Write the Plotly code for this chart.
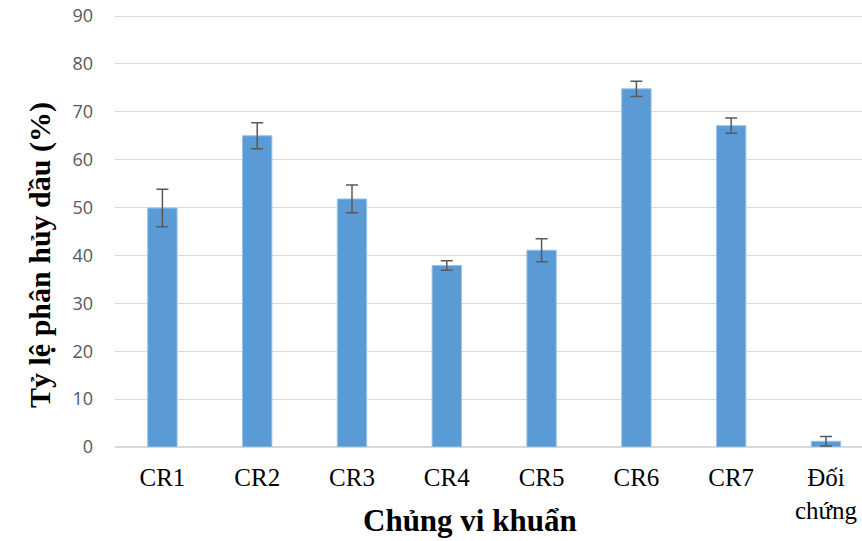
import plotly.graph_objects as go

categories = ["CR1", "CR2", "CR3", "CR4", "CR5", "CR6", "CR7", "Đối<br>chứng"]
values = [49.9, 65.0, 51.8, 37.9, 41.1, 74.8, 67.1, 1.2]
errors = [3.9, 2.7, 2.9, 1.0, 2.4, 1.6, 1.6, 1.0]
y_ticks = [0, 10, 20, 30, 40, 50, 60, 70, 80, 90]

W, H = 862, 541
L, T, B = 115, 14, 94
PW, PH = W - L, H - T - B

fig = go.Figure()
fig.add_trace(go.Bar(
    x=categories,
    y=values,
    width=0.31,
    marker=dict(color="#5B9BD5", line=dict(color="#9cc3e6", width=1)),
    error_y=dict(type="data", array=errors, visible=True,
                 color="#595959", thickness=1.5, width=6),
))

fig.update_layout(
    width=W, height=H,
    margin=dict(l=L, r=0, t=T, b=B),
    paper_bgcolor="white", plot_bgcolor="white",
    showlegend=False,
    xaxis=dict(
        range=[-0.5, 7.38], automargin=False,
        showgrid=False,
        showline=True, linecolor="#d9d9d9", linewidth=1,
        tickfont=dict(family="Liberation Serif", size=25, color="#000000"),
        ticks="", ticklabelstandoff=8, ticklabeloverflow="allow",
    ),
    yaxis=dict(
        range=[0, 90.42], automargin=False,
        tickvals=y_ticks,
        showgrid=True, gridcolor="#d9d9d9", gridwidth=1,
        zeroline=True, zerolinecolor="#d9d9d9",
        tickfont=dict(family="Open Sans", size=18, color="#595959"),
        ticklabelstandoff=21, ticklabeloverflow="allow",
    ),
    annotations=[
        dict(
            text="<b>Chủng vi khuẩn</b>", xref="paper", yref="paper",
            x=(470 - L) / PW, y=-(520 - 447) / PH,
            xanchor="center", yanchor="middle", showarrow=False,
            font=dict(family="Liberation Serif", size=31, color="#000000"),
        ),
        dict(
            text="<b>Tỷ lệ phân hủy dầu (%)</b>", xref="paper", yref="paper",
            x=-(L - 40) / PW, y=(447 - 255) / PH,
            xanchor="center", yanchor="middle", showarrow=False, textangle=-90,
            font=dict(family="Liberation Serif", size=30, color="#000000"),
        ),
    ],
)

fig.write_html(
    "out.html",
    config={"displayModeBar": False},
    post_script="document.body.style.margin='0';document.body.style.overflow='hidden';",
)
